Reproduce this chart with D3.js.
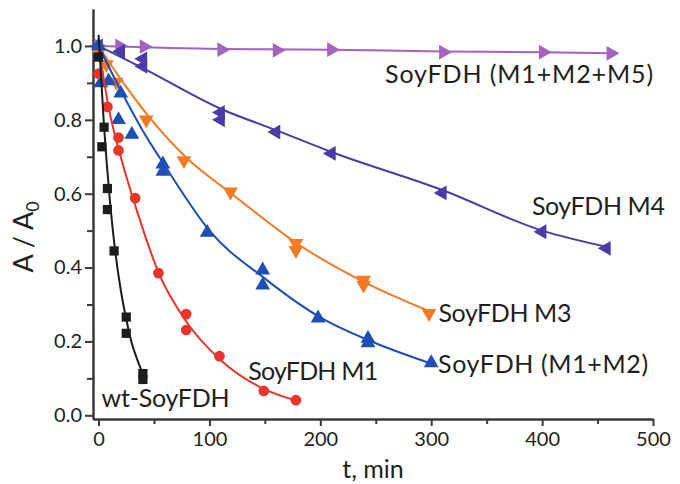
<!DOCTYPE html>
<html>
<head>
<meta charset="utf-8">
<script src="https://cdn.jsdelivr.net/npm/d3@7/dist/d3.min.js"></script>
<style>
body{margin:0;background:#fff}
svg text{font-family:Lato,"Open Sans",sans-serif;fill:#231f20}
.axis path,.axis line{stroke:#3a3a3a;stroke-width:2}
.fit{fill:none;stroke-width:2}
</style>
</head>
<body>
<div id="chart"></div>
<script>
// tick values
var xTicks=[0,100,200,300,400,500]
var xMinor=[50,150,250,350,450]
var yTicks=[0,0.2,0.4,0.6,0.8,1.0]
var yMinor=[0.1,0.3,0.5,0.7,0.9]

// measured points [t (min), A/A0]
var wtPoints=[[0,0.97],[5,0.78],[3,0.727],[8,0.614],[8,0.557],[14,0.445],[25,0.266],[25,0.222],[40,0.113],[40,0.097]]
var m1Points=[[0,0.925],[8,0.835],[18,0.752],[18,0.717],[33,0.588],[54,0.385],[79,0.274],[79,0.231],[109,0.16],[149,0.066],[178,0.041]]
var m12Points=[[0,1.0],[2,0.9],[9,0.905],[20,0.872],[18,0.80],[30,0.76],[58,0.68],[58,0.66],[98,0.495],[148,0.393],[148,0.352],[198,0.263],[243,0.208],[243,0.196],[300,0.142]]
var m3Points=[[0,0.98],[7,0.95],[16,0.902],[43,0.80],[77,0.69],[119,0.605],[178,0.466],[178,0.447],[239,0.366],[239,0.353],[298,0.276]]
var m4Points=[[0,1.0],[20,0.985],[40,0.965],[40,0.945],[110,0.82],[110,0.80],[160,0.767],[210,0.709],[310,0.602],[400,0.497],[458,0.452]]
var m125Points=[[0,1.0],[19,1.0],[41,0.998],[111,0.99],[161,0.988],[210,0.99],[311,0.983],[401,0.983],[462,0.98]]

// fitted curves
var wtFit=[[0,1.03],[5,0.78],[10,0.59],[15,0.445],[20,0.34],[25,0.26],[30,0.195],[35,0.15],[40,0.112]]
var m1Fit=[[0,1.0],[10,0.82],[20,0.70],[35,0.55],[55,0.38],[80,0.25],[110,0.15],[150,0.07],[178,0.04]]
var m12Fit=[[0,1.0],[20,0.88],[40,0.77],[60,0.675],[100,0.50],[150,0.37],[200,0.265],[250,0.195],[300,0.14]]
var m3Fit=[[0,1.0],[20,0.91],[45,0.81],[80,0.695],[120,0.60],[180,0.463],[240,0.36],[300,0.28]]
var m4Fit=[[0,1.0],[40,0.94],[110,0.83],[160,0.772],[210,0.713],[310,0.61],[400,0.50],[460,0.455]]
var m125Fit=[[0,1.0],[110,0.992],[210,0.99],[310,0.985],[400,0.983],[462,0.98]]

var seriesNames=["wt-SoyFDH","SoyFDH M1","SoyFDH (M1+M2)","SoyFDH M3","SoyFDH M4","SoyFDH (M1+M2+M5)"]

class DecayChart{

	constructor(){
		this.width=680
		this.height=484
	}
	start(){
		this.drawAxis()
		this.drawSeries()
		this.drawLabels()
	}
	drawAxis(){
		this.svg=d3.select("#chart").append("svg")
			.attr("width",this.width)
			.attr("height",this.height)

		this.x=d3.scaleLinear().domain([-5,500]).range([93,653])
		this.y=d3.scaleLinear().domain([-0.01,1.1]).range([419,9])

		// minor ticks first, no labels
		this.svg.append("g")
			.attr("class","axis")
			.attr("transform","translate(0,419)")
			.call(d3.axisBottom(this.x).tickValues(xMinor).tickFormat("").tickSize(5).tickSizeOuter(0))
		this.svg.append("g")
			.attr("class","axis")
			.attr("transform","translate(93,0)")
			.call(d3.axisLeft(this.y).tickValues(yMinor).tickFormat("").tickSize(6).tickSizeOuter(0))

		this.svg.append("g")
			.attr("class","axis")
			.attr("transform","translate(0,419)")
			.call(d3.axisBottom(this.x).tickValues(xTicks).tickSize(7).tickPadding(6).tickSizeOuter(0))
		this.svg.append("g")
			.attr("class","axis")
			.attr("transform","translate(93,0)")
			.call(d3.axisLeft(this.y).tickValues(yTicks).tickFormat(d3.format(".1f")).tickSize(8).tickPadding(3).tickSizeOuter(0))
		this.svg.selectAll(".axis text").style("font-size","20px").attr("fill","#231f20")

		// axis titles
		this.svg.append("text")
			.attr("x",373).attr("y",478)
			.attr("text-anchor","middle")
			.style("font-size","25px")
			.text("t, min")
		var yt=this.svg.append("text")
			.attr("transform","translate(33,237) rotate(-90)")
			.attr("text-anchor","middle")
			.style("font-size","27px")
		yt.append("tspan").text("A / A")
		yt.append("tspan").attr("dy",6).style("font-size","18px").text("0")
	}
	drawSeries(){
		var self=this
		var line=d3.line()
			.x(function(d){return self.x(d[0])})
			.y(function(d){return self.y(d[1])})
			.curve(d3.curveMonotoneX)

		var series=[
			{pts:wtPoints,fit:wtFit,color:"#1c1c1c",sym:d3.symbolSquare,size:85,rot:0},
			{pts:m1Points,fit:m1Fit,color:"#e8352b",sym:d3.symbolCircle,size:90,rot:0},
			{pts:m12Points,fit:m12Fit,color:"#1d4fb4",sym:d3.symbolTriangle,size:95,rot:0},
			{pts:m3Points,fit:m3Fit,color:"#f47a24",sym:d3.symbolTriangle,size:95,rot:180},
			{pts:m4Points,fit:m4Fit,color:"#4a3ba6",sym:d3.symbolTriangle,size:95,rot:-90},
			{pts:m125Points,fit:m125Fit,color:"#a462c2",sym:d3.symbolTriangle,size:95,rot:90}
		]
		// draw back to front so black sits on top like the original
		series.slice().reverse().forEach(function(s){
			self.svg.append("path")
				.datum(s.fit)
				.attr("class","fit")
				.attr("stroke",s.color)
				.attr("d",line)
			self.svg.append("g").selectAll("path")
				.data(s.pts)
				.enter().append("path")
				.attr("d",d3.symbol().type(s.sym).size(s.size))
				.attr("fill",s.color)
				.attr("transform",function(d){
					return "translate("+self.x(d[0])+","+self.y(d[1])+") rotate("+s.rot+")"
				})
		})
	}
	drawLabels(){
		var self=this
		// anchors in data units (baseline of each name) and the width each name takes
		var at=[[2.7,0.023],[135,0.0955],[306.2,0.114],[306.5,0.253],[390.8,0.542],[258.4,0.899]]
		var wide=[128,130,210,133,133,268]
		seriesNames.forEach(function(n,i){
			self.svg.append("text")
				.attr("x",self.x(at[i][0]))
				.attr("y",self.y(at[i][1]))
				.style("font-size","25px")
				.attr("textLength",wide[i])
				.attr("lengthAdjust","spacing")
				.text(n)
		})
	}
}
var chart=new DecayChart()
chart.start()
</script>
</body>
</html>
